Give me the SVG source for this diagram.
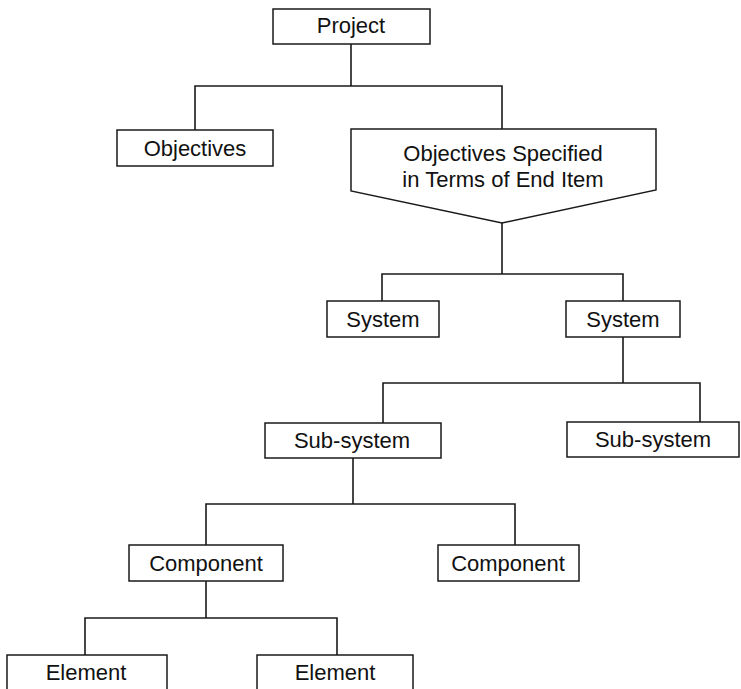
<svg xmlns="http://www.w3.org/2000/svg" width="741" height="689" viewBox="0 0 741 689">
  <style>
    .box { fill: #ffffff; stroke: #1a1a1a; stroke-width: 1.5; }
    .wire { fill: none; stroke: #1a1a1a; stroke-width: 1.6; stroke-linecap: square; }
    .lbl { font-family: "Liberation Sans", Arial, Helvetica, sans-serif; font-size: 22px; fill: #111111; text-anchor: middle; }
  </style>
  <rect width="741" height="689" fill="#ffffff"/>

  <!-- tree connectors -->
  <g id="connectors">
    <path class="wire" d="M351,44 V86 M195,86 H502 M195,86 V130 M502,86 V129"/>
    <path class="wire" d="M502,223 V274 M382,274 H623 M382,274 V301 M623,274 V301"/>
    <path class="wire" d="M623,337 V383 M383,383 H700 M383,383 V423 M700,383 V422"/>
    <path class="wire" d="M353,458 V504 M206,504 H515 M206,504 V545 M515,504 V545"/>
    <path class="wire" d="M206,581 V618 M85,618 H337 M85,618 V655 M337,618 V655"/>
  </g>

  <g id="project">
    <rect class="box" x="273" y="9" width="157" height="35"/>
    <text class="lbl" x="351" y="33">Project</text>
  </g>

  <g id="objectives">
    <rect class="box" x="117" y="130" width="156" height="36"/>
    <text class="lbl" x="195" y="156">Objectives</text>
  </g>

  <g id="end-item-objectives">
    <path class="box" d="M351,129 H656 V190 L502,223 L351,191 Z"/>
    <text class="lbl" x="503" y="161">Objectives Specified</text>
    <text class="lbl" x="503" y="187">in Terms of End Item</text>
  </g>

  <g id="system-1">
    <rect class="box" x="327" y="301" width="112" height="36"/>
    <text class="lbl" x="383" y="327">System</text>
  </g>

  <g id="system-2">
    <rect class="box" x="566" y="301" width="114" height="36"/>
    <text class="lbl" x="623" y="327">System</text>
  </g>

  <g id="subsystem-1">
    <rect class="box" x="265" y="423" width="176" height="35"/>
    <text class="lbl" x="352" y="448">Sub-system</text>
  </g>

  <g id="subsystem-2">
    <rect class="box" x="567" y="422" width="172" height="35"/>
    <text class="lbl" x="653" y="447">Sub-system</text>
  </g>

  <g id="component-1">
    <rect class="box" x="129" y="545" width="154" height="36"/>
    <text class="lbl" x="206" y="571">Component</text>
  </g>

  <g id="component-2">
    <rect class="box" x="438" y="545" width="141" height="36"/>
    <text class="lbl" x="508" y="571">Component</text>
  </g>

  <g id="element-1">
    <rect class="box" x="7" y="655" width="160" height="50"/>
    <text class="lbl" x="86" y="680">Element</text>
  </g>

  <g id="element-2">
    <rect class="box" x="257" y="655" width="156" height="50"/>
    <text class="lbl" x="335" y="680">Element</text>
  </g>
</svg>
